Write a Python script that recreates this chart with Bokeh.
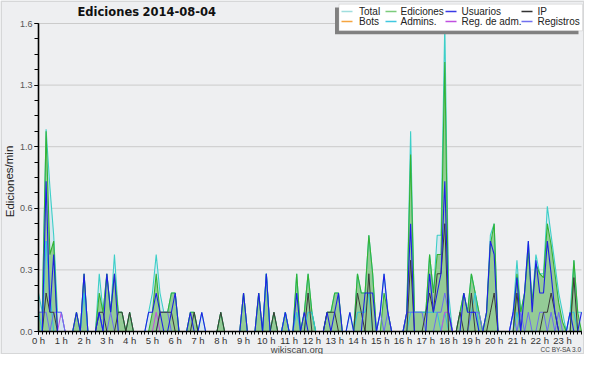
from bokeh.plotting import figure
from bokeh.models import (ColumnDataSource, FixedTicker, Label, BoxAnnotation,
                          Range1d, LinearAxis)
from bokeh.embed import file_html
from bokeh.resources import INLINE

# ---------------- data ----------------
title_words = ["Ediciones", "2014-08-04"]
y_label = "Ediciones/min"
hour_ticks = list(range(24))
hour_labels = ["%d h" % h for h in hour_ticks]
y_ticks = [0.0, 0.32, 0.64, 0.96, 1.28, 1.6]
y_tick_labels = ["0.0", "0.3", "0.6", "1.0", "1.3", "1.6"]
slot_minutes = list(range(0, 1440, 10))   # 10-minute slots of the day

total = [
    .2, .1, 1.05, .75, .5, .1, .1, 0, 0, 0, .1, 0,
    .3, 0, 0, 0, .3, .1, .3, .1, .4, .1, .1, 0,
    .1, 0, 0, 0, 0, .1, .2, .4, .2, .1, .1, .2,
    .2, 0, 0, 0, .1, .1, 0, .1, 0, 0, 0, 0,
    .1, 0, 0, 0, 0, 0, .2, 0, 0, 0, .2, 0,
    .3, 0, .1, 0, 0, .1, 0, 0, .3, 0, .1, .3,
    .1, 0, 0, 0, .1, .1, .2, .2, 0, 0, .1, 0,
    .3, .2, .2, .5, .3, 0, .1, .3, .1, 0, 0, 0,
    0, .1, 1.04, .1, .1, .1, .1, .4, .2, .5, .5, 1.6,
    .2, 0, 0, .1, .2, .1, .3, .2, .1, 0, .1, .5,
    .56, 0, 0, 0, 0, .1, .37, .1, .2, .47, .15, .4,
    .3, .3, .65, .5, .35, .2, .1, 0, .1, .37, .1, .1,
]
ediciones = [
    .1, .1, 1.04, .4, .47, 0, 0, 0, 0, 0, .1, 0,
    .3, 0, 0, 0, .2, .1, .3, .1, .3, .1, .1, 0,
    .1, 0, 0, 0, 0, 0, .1, .3, .1, .1, .1, .2,
    .2, 0, 0, 0, .1, .1, 0, 0, 0, 0, 0, 0,
    .1, 0, 0, 0, 0, 0, .2, 0, 0, 0, .2, 0,
    .3, 0, .1, 0, 0, .1, 0, 0, .3, 0, .1, .3,
    .1, 0, 0, 0, .1, .1, .2, .2, 0, 0, 0, 0,
    .3, .2, .2, .5, .3, 0, 0, .2, .1, 0, 0, 0,
    0, .1, .92, .1, .1, .1, .1, .4, .2, .4, .4, 1.4,
    .1, 0, 0, .1, .2, .1, .3, .2, .1, 0, .1, .45,
    .56, 0, 0, 0, 0, 0, .3, .1, .2, .42, .15, .35,
    .3, .28, .56, .45, .3, .15, .05, 0, 0, .37, .1, 0,
]
usuarios = [
    0, 0, .78, .1, .4, 0, 0, 0, 0, 0, .1, 0,
    .3, 0, 0, 0, .1, 0, .3, .1, .3, 0, 0, 0,
    0, 0, 0, 0, 0, .1, .1, .2, .1, 0, 0, .1,
    .2, 0, 0, 0, .1, 0, 0, .1, 0, 0, 0, 0,
    0, 0, 0, 0, 0, 0, .2, 0, 0, 0, .2, 0,
    .3, 0, 0, 0, 0, .1, 0, 0, .2, 0, .1, 0,
    0, 0, 0, 0, .1, 0, .1, .2, 0, 0, .1, 0,
    0, 0, .2, .2, .2, 0, .1, .3, .1, 0, 0, 0,
    0, .1, .56, 0, 0, 0, 0, .3, .1, .2, .3, .78,
    .1, 0, 0, 0, .2, .1, .1, .1, 0, 0, .1, .47,
    .4, 0, 0, 0, 0, .1, .28, 0, .2, .47, .1, .37,
    .2, .2, .47, .3, .1, 0, 0, 0, .1, 0, 0, .1,
]
ip = [
    0, 0, .2, .1, .1, 0, 0, 0, 0, 0, 0, 0,
    0, 0, 0, 0, .1, .1, 0, 0, 0, .1, .1, 0,
    .1, 0, 0, 0, 0, 0, 0, 0, .1, .1, .1, .1,
    0, 0, 0, 0, 0, .1, 0, 0, 0, 0, 0, 0,
    .1, 0, 0, 0, 0, 0, 0, 0, 0, 0, 0, 0,
    0, 0, .1, 0, 0, 0, 0, 0, 0, 0, 0, .2,
    0, 0, 0, 0, .1, .1, .1, 0, 0, 0, 0, 0,
    .2, .1, 0, .3, 0, 0, 0, 0, 0, 0, 0, 0,
    0, 0, .37, 0, 0, 0, .1, .2, .1, .3, .3, .56,
    0, 0, 0, .1, 0, 0, .2, 0, 0, 0, 0, .1,
    .2, 0, 0, 0, 0, 0, .2, 0, 0, 0, 0, 0,
    0, .1, .1, .2, .1, 0, 0, 0, 0, .28, 0, 0,
]
bots = [
    0, 0, 0, 0, 0, 0, 0, 0, 0, 0, 0, 0,
    0, 0, 0, 0, 0, 0, 0, 0, 0, 0, 0, 0,
    0, 0, 0, 0, 0, 0, 0, 0, 0, 0, 0, 0,
    0, 0, 0, 0, 0, 0, 0, 0, 0, 0, 0, 0,
    0, 0, 0, 0, 0, 0, 0, 0, 0, 0, 0, 0,
    0, 0, 0, 0, 0, 0, 0, 0, 0, 0, 0, 0,
    0, 0, 0, 0, 0, 0, 0, 0, 0, 0, 0, 0,
    0, 0, 0, 0, 0, 0, 0, 0, 0, 0, 0, 0,
    0, 0, 0, 0, 0, 0, 0, 0, 0, 0, 0, 0,
    0, 0, 0, 0, 0, 0, 0, 0, 0, 0, 0, 0,
    0, 0, 0, 0, 0, 0, 0, 0, 0, 0, 0, 0,
    0, 0, 0, 0, 0, 0, 0, 0, 0, 0, 0, 0,
]
admins = [
    .1, 0, .47, .2, 0, 0, 0, 0, 0, 0, 0, 0,
    .2, 0, 0, 0, .1, 0, 0, 0, 0, 0, 0, 0,
    0, 0, 0, 0, 0, 0, 0, 0, 0, 0, 0, 0,
    0, 0, 0, 0, 0, 0, 0, 0, 0, 0, 0, 0,
    0, 0, 0, 0, 0, 0, 0, 0, 0, 0, 0, 0,
    .3, 0, 0, 0, 0, .1, 0, 0, .1, 0, 0, .1,
    .1, 0, 0, 0, 0, 0, 0, 0, 0, 0, 0, 0,
    .1, .1, .1, .2, 0, 0, 0, 0, 0, 0, 0, 0,
    0, 0, .1, .1, .1, .1, .1, .1, .1, .1, 0, .1,
    0, 0, 0, 0, 0, 0, .1, .2, 0, 0, 0, 0,
    0, 0, 0, 0, 0, 0, .1, 0, 0, 0, 0, 0,
    0, 0, 0, 0, 0, 0, 0, 0, .1, .1, 0, 0,
]
reg_adm = [
    0, 0, 0, 0, 0, 0, .1, 0, 0, 0, 0, 0,
    0, 0, 0, 0, 0, 0, 0, 0, 0, 0, 0, 0,
    0, 0, 0, 0, 0, 0, 0, .1, 0, 0, 0, 0,
    0, 0, 0, 0, 0, 0, 0, 0, 0, 0, 0, 0,
    0, 0, 0, 0, 0, 0, 0, 0, 0, 0, 0, 0,
    0, 0, 0, 0, 0, 0, 0, 0, 0, 0, 0, 0,
    0, 0, 0, 0, 0, 0, 0, 0, 0, 0, 0, 0,
    0, 0, 0, 0, 0, 0, 0, 0, 0, 0, 0, 0,
    0, 0, 0, 0, 0, 0, 0, 0, 0, 0, 0, .1,
    .1, 0, 0, 0, 0, 0, 0, 0, 0, 0, 0, 0,
    0, 0, 0, 0, 0, 0, 0, 0, 0, 0, 0, 0,
    0, 0, 0, 0, 0, 0, 0, 0, 0, 0, 0, 0,
]
registros = [
    .1, .1, .1, 0, .1, .1, .1, 0, 0, 0, 0, 0,
    0, 0, 0, 0, .1, 0, 0, .1, 0, 0, 0, 0,
    0, 0, 0, 0, 0, 0, 0, 0, .1, .1, .1, 0,
    0, 0, 0, 0, 0, 0, 0, 0, 0, 0, 0, 0,
    0, 0, 0, 0, 0, 0, 0, 0, 0, 0, 0, 0,
    0, 0, 0, 0, 0, 0, 0, 0, 0, 0, 0, 0,
    0, 0, 0, 0, 0, 0, 0, 0, 0, 0, 0, 0,
    0, 0, 0, 0, 0, 0, .1, 0, .1, 0, 0, 0,
    0, .1, .1, .1, .1, .1, 0, 0, 0, .1, .1, .2,
    .1, 0, 0, 0, 0, 0, .1, .1, .1, 0, 0, 0,
    0, 0, 0, 0, 0, .1, 0, .1, 0, .1, 0, 0,
    .1, .1, 0, .1, 0, .1, 0, 0, 0, 0, 0, 0,
]

legend_names = ["Total", "Ediciones", "Usuarios", "IP",
                "Bots", "Admins.", "Reg. de adm.", "Registros"]

# ---------------- styles ----------------
C_TOTAL_LINE = "#3ccfc8"
C_TOTAL_FILL = "#d3e5ee"
C_ED_LINE = "#34b334"
C_ED_FILL = "#90c990"
C_US = "#1f1fe6"
C_IP = "#3a3a3a"
C_BOTS = "#f5a540"
C_ADM = "#2cc4dc"
C_REGADM = "#c44de0"
C_REG = "#6c6cf2"
legend_colors = ["#a0dede", "#7ccc7c", "#3a3ae6", "#333333",
                 "#f5a540", "#40c8e0", "#c050e0", "#7070f0"]
FONT = "Liberation Sans"

# canvas geometry (pixels inside the figure)
W, H = 584, 354
PX_LEFT, PX_RIGHT = 38.0, 581.0      # data x: 0 .. last slot
PX_TOP, PX_BOTTOM = 23.0, 331.0      # data y: 1.6 .. 0

hours = [m / 60.0 for m in slot_minutes]
x_last = hours[-1]
y_max = y_ticks[-1]
ppx = (PX_RIGHT - PX_LEFT) / x_last
ppy = (PX_BOTTOM - PX_TOP) / y_max
x_range = Range1d(-PX_LEFT / ppx, x_last + (W - PX_RIGHT) / ppx)
y_range = Range1d(-(H - PX_BOTTOM) / ppy, y_max + PX_TOP / ppy)

src = ColumnDataSource(dict(x=hours, total=total, ed=ediciones, us=usuarios,
                            ip=ip, bots=bots, adm=admins, regadm=reg_adm,
                            reg=registros))

p = figure(width=W, height=H, output_backend="svg", toolbar_location=None,
           title=None, x_range=x_range, y_range=y_range,
           x_axis_location=None, y_axis_location=None,
           min_border=0, background_fill_color="#eeeff1",
           border_fill_color="#eeeff1", outline_line_color=None)
p.xgrid.visible = False
p.ygrid.visible = False

# horizontal grid lines at the major y ticks
p.segment(x0=[0] * 5, x1=[x_last] * 5, y0=y_ticks[1:], y1=y_ticks[1:],
          line_color="#cbcbcb", line_width=1)

# areas
p.varea(x="x", y1=0, y2="total", source=src, fill_color=C_TOTAL_FILL, fill_alpha=0.9)
p.varea(x="x", y1=0, y2="ed", source=src, fill_color=C_ED_FILL, fill_alpha=0.95)
# lines
p.line(x="x", y="total", source=src, line_color=C_TOTAL_LINE, line_width=1.1)
p.line(x="x", y="ed", source=src, line_color=C_ED_LINE, line_width=1.1)
p.line(x="x", y="bots", source=src, line_color=C_BOTS, line_width=1)
p.line(x="x", y="adm", source=src, line_color=C_ADM, line_width=1)
p.line(x="x", y="regadm", source=src, line_color=C_REGADM, line_width=1)
p.line(x="x", y="reg", source=src, line_color=C_REG, line_width=1)
p.line(x="x", y="ip", source=src, line_color=C_IP, line_width=1)
p.line(x="x", y="us", source=src, line_color=C_US, line_width=1.1)

# axes, fixed at the data origin
xa = LinearAxis(fixed_location=0, bounds=(0, x_last))
xa.ticker = FixedTicker(ticks=hour_ticks, minor_ticks=hours)
xa.major_label_overrides = dict(zip(hour_ticks, hour_labels))
xa.major_tick_out = 3
xa.major_tick_in = 0
xa.minor_tick_out = 3
xa.minor_tick_in = 0
xa.axis_line_width = 1.6
xa.axis_line_color = "black"
xa.major_tick_line_color = "black"
xa.minor_tick_line_color = "black"
xa.major_label_text_font = FONT
xa.major_label_text_font_size = "9.5px"
xa.major_label_text_color = "#333333"
xa.major_label_standoff = 0
p.add_layout(xa, "below")

ya = LinearAxis(fixed_location=0, bounds=(0, y_max))
ya.ticker = FixedTicker(ticks=y_ticks, minor_ticks=[k * 0.08 for k in range(21)])
ya.major_label_overrides = dict(zip(y_ticks, y_tick_labels))
ya.major_tick_out = 4
ya.major_tick_in = 0
ya.minor_tick_out = 4
ya.minor_tick_in = 0
ya.axis_line_width = 1.6
ya.axis_line_color = "black"
ya.major_tick_line_color = "black"
ya.minor_tick_line_color = "black"
ya.major_label_text_font = FONT
ya.major_label_text_font_size = "9px"
ya.major_label_text_color = "#555555"
ya.major_label_standoff = 2
p.add_layout(ya, "left")

def canvas_box(**kw):
    return BoxAnnotation(left_units="canvas", right_units="canvas",
                         top_units="canvas", bottom_units="canvas", **kw)

def canvas_label(**kw):
    return Label(x_units="canvas", y_units="canvas", **kw)

# outer frame
p.add_layout(canvas_box(left=0.75, right=W - 0.75, top=0.75, bottom=H - 0.75,
                        fill_alpha=0, line_color="#a0a0a0", line_width=1.5))

# title (two words, wide gap as in the original)
for word, tx in zip(title_words, [77, 142]):
    p.add_layout(canvas_label(x=tx, y=11, text=word, text_font="DejaVu Sans",
                              text_font_style="bold", text_font_size="11.5px",
                              text_color="#111111", text_baseline="middle",
                              text_align="left"))
# y label
p.add_layout(canvas_label(x=9, y=(PX_TOP + PX_BOTTOM) / 2 + 4, text=y_label,
                          angle=1.5708, text_font=FONT, text_font_size="11.5px",
                          text_color="#222222", text_baseline="middle",
                          text_align="center"))
# footer
p.add_layout(canvas_label(x=296.5, y=348.5, text="wikiscan.org", text_font=FONT,
                          text_font_size="9.5px", text_color="#444444",
                          text_baseline="middle", text_align="center"))
p.add_layout(canvas_label(x=581, y=349, text="CC BY-SA 3.0", text_font=FONT,
                          text_font_size="6.5px", text_color="#444444",
                          text_baseline="middle", text_align="right"))

# legend (manual, with shadow)
LX0, LY0, LX1, LY1 = 338.5, 3.7, 582, 30.3
p.add_layout(canvas_box(left=LX0 - 4, right=LX1 - 4, top=LY0 + 3.4, bottom=LY1 + 3.4,
                        fill_color="#808080", fill_alpha=1, line_alpha=0))
p.add_layout(canvas_box(left=LX0, right=LX1, top=LY0, bottom=LY1,
                        fill_color="white", fill_alpha=1,
                        line_color="#b0b0b0", line_width=1))
col_sw = [341, 385, 445, 521]
col_tx = [358.5, 400, 461, 537]
row_y = [11, 21]
for k, (name, col) in enumerate(zip(legend_names, legend_colors)):
    r, c = divmod(k, 4)
    y = row_y[r]
    p.add_layout(canvas_box(left=col_sw[c], right=col_sw[c] + 11,
                            top=y - 0.8, bottom=y + 0.8,
                            fill_color=col, fill_alpha=1, line_alpha=0))
    p.add_layout(canvas_label(x=col_tx[c], y=y, text=name, text_font=FONT,
                              text_font_size="10px", text_color="#222222",
                              text_baseline="middle", text_align="left"))

open("out.html", "w", encoding="utf-8").write(file_html(p, INLINE))
